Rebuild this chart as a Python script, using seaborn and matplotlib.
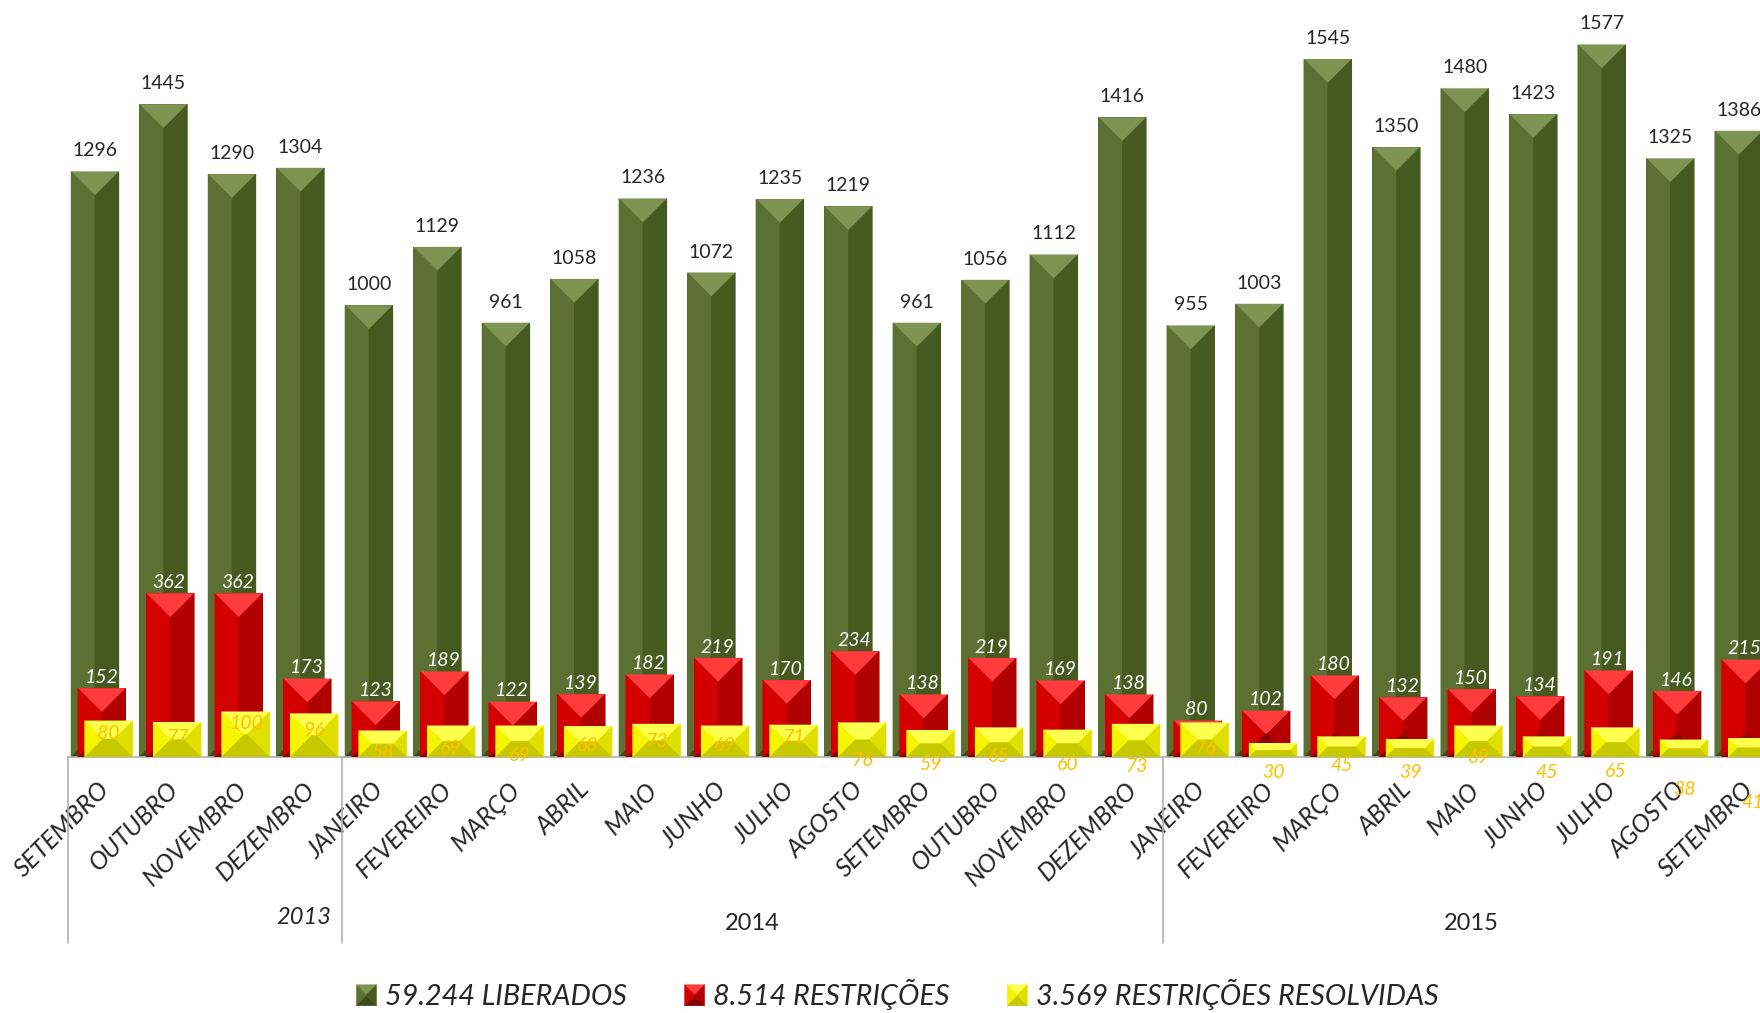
import numpy as np
import pandas as pd
import matplotlib
matplotlib.use('Agg')
import matplotlib.pyplot as plt
import seaborn as sns
from matplotlib.patches import Polygon, Patch
from matplotlib.legend_handler import HandlerBase
from matplotlib.transforms import ScaledTranslation

# Monthly data, Sep 2013 - Sep 2015
months = ['SETEMBRO', 'OUTUBRO', 'NOVEMBRO', 'DEZEMBRO',
          'JANEIRO', 'FEVEREIRO', 'MARÇO', 'ABRIL', 'MAIO', 'JUNHO', 'JULHO',
          'AGOSTO', 'SETEMBRO', 'OUTUBRO', 'NOVEMBRO', 'DEZEMBRO',
          'JANEIRO', 'FEVEREIRO', 'MARÇO', 'ABRIL', 'MAIO', 'JUNHO', 'JULHO',
          'AGOSTO', 'SETEMBRO']
years = ['2013'] * 4 + ['2014'] * 12 + ['2015'] * 9
liberados = [1296, 1445, 1290, 1304, 1000, 1129, 961, 1058, 1236, 1072, 1235, 1219,
             961, 1056, 1112, 1416, 955, 1003, 1545, 1350, 1480, 1423, 1577, 1325, 1386]
restricoes = [152, 362, 362, 173, 123, 189, 122, 139, 182, 219, 170, 234,
              138, 219, 169, 138, 80, 102, 180, 132, 150, 134, 191, 146, 215]
resolvidas = [80, 77, 100, 96, 58, 69, 69, 68, 73, 69, 71, 76,
              59, 65, 60, 73, 76, 30, 45, 39, 69, 45, 65, 38, 41]
legend_labels = ['59.244 LIBERADOS', '8.514 RESTRIÇÕES', '3.569 RESTRIÇÕES RESOLVIDAS']

# where the yellow labels sit (moved by hand in the original, data units)
resolvidas_label_y = [53, 44, 74, 58, 9, 18, 4, 26, 35, 26, 44, -7, -16, 0, -16, -21,
                      18, -35, -18, -35, -2, -35, -31, -73, -100]

# face colours: top, left, right, bottom
green_faces = ['#7D9452', '#5B7032', '#46591F', '#3A4A1B']
red_faces = ['#FF3B3B', '#D40000', '#B00000', '#8C0000']
yellow_faces = ['#FFFF4D', '#F5F500', '#E0E000', '#C8C800']

sns.set_style('white')
plt.rcParams['font.family'] = ['Lato', 'DejaVu Sans']

fig = plt.figure(figsize=(17.6, 10.13), dpi=100)
ax = fig.add_axes([0.0384, 1 - 757 / 1013, 1 - 0.0384, 757 / 1013])

pos = np.arange(len(months))
df = pd.DataFrame({'pos': pos, 'mes': months, 'ano': years,
                   'liberados': liberados, 'restricoes': restricoes,
                   'resolvidas': resolvidas})

series = [('liberados', '#4F6228', -0.1, 2, green_faces),
          ('restricoes', '#C00000', 0.0, 3, red_faces),
          ('resolvidas', '#FFFF00', 0.1, 4, yellow_faces)]

bar_sets = []
for col, base, off, z, faces in series:
    n0 = len(ax.patches)
    sns.barplot(data=df, x='pos', y=col, native_scale=True, width=0.7, color=base,
                saturation=1, errorbar=None, ax=ax)
    bars = ax.patches[n0:]
    for p in bars:
        p.set_x(p.get_x() + off)
        p.set_zorder(z)
        p.set_linewidth(0)
    bar_sets.append(bars)

ax.set_xlim(-0.5, 24.21)
ax.set_ylim(0, 1676)


def pyramid(x0, y0, w, h, dx, dy):
    x1, y1 = x0 + w, y0 + h
    top = [(x0, y1), (x1, y1), (x1 - dx, y1 - dy), (x0 + dx, y1 - dy)]
    left = [(x0, y0), (x0, y1), (x0 + dx, y1 - dy), (x0 + dx, y0 + dy)]
    right = [(x1, y0), (x1, y1), (x1 - dx, y1 - dy), (x1 - dx, y0 + dy)]
    bottom = [(x0, y0), (x1, y0), (x1 - dx, y0 + dy), (x0 + dx, y0 + dy)]
    return [top, left, right, bottom]


# pixel scale so the bevel is square on screen
o = ax.transData.transform((0, 0))
px_x = ax.transData.transform((1, 0))[0] - o[0]
px_y = ax.transData.transform((0, 1))[1] - o[1]

for (col, base, off, z, faces), bars in zip(series, bar_sets):
    for p in bars:
        x0, w, h = p.get_x(), p.get_width(), p.get_height()
        d = min(w * px_x, h * px_y) / 2
        for verts, c in zip(pyramid(x0, 0, w, h, d / px_x, d / px_y), faces):
            ax.add_patch(Polygon(verts, closed=True, facecolor=c, edgecolor=c,
                                 linewidth=0.3, zorder=z + 0.01))

# value labels
for p, v in zip(bar_sets[0], liberados):
    ax.annotate(str(v), (p.get_x() + p.get_width() / 2, p.get_height()),
                xytext=(0, 11), textcoords='offset points', ha='center',
                va='baseline', fontsize=14, color='#262626', zorder=6)
for p, v in zip(bar_sets[1], restricoes):
    ax.annotate(str(v), (p.get_x() + p.get_width() / 2, p.get_height()),
                xytext=(-1, 4), textcoords='offset points', ha='center',
                va='baseline', fontsize=14, style='italic', color='white', zorder=6)
for p, v, ly in zip(bar_sets[2], resolvidas, resolvidas_label_y):
    ax.text(p.get_x() + p.get_width() / 2, ly, str(v), ha='center', va='center',
            fontsize=14, style='italic', color='#FFC000', zorder=6, clip_on=False)

# category axis
ax.set_xticks(pos)
ax.set_xticklabels(months, rotation=45, ha='right', va='top', rotation_mode='anchor',
                   fontsize=18, style='italic', color='#262626')
ax.tick_params(axis='x', length=0, pad=15)
for lab in ax.get_xticklabels():
    lab.set_transform(lab.get_transform() + ScaledTranslation(-0.04, 0, fig.dpi_scale_trans))
ax.set_yticks([])
ax.set_xlabel('')
ax.set_ylabel('')
for s in ['top', 'left', 'right']:
    ax.spines[s].set_visible(False)
ax.spines['bottom'].set_color('#B0B0B0')
ax.spines['bottom'].set_linewidth(1.2)

# year groups
xt = ax.get_xaxis_transform()
starts = [i for i in range(len(years)) if i == 0 or years[i] != years[i - 1]]
for i in starts:
    ax.plot([i - 0.5, i - 0.5], [0, -0.2457], transform=xt, clip_on=False,
            color='#B0B0B0', linewidth=1.2)
for k, i in enumerate(starts):
    end = starts[k + 1] - 1 if k + 1 < len(starts) else len(years) - 1
    if k == 0:
        ax.text(end + 0.35, -0.212, years[i], transform=xt, ha='right', va='center',
                fontsize=17, style='italic', color='#262626')
    else:
        ax.text((i + end) / 2, -0.22, years[i], transform=xt, ha='center', va='center',
                fontsize=17, color='#262626')


class BevelHandler(HandlerBase):
    def __init__(self, faces):
        super().__init__()
        self.faces = faces

    def create_artists(self, legend, orig_handle, xdescent, ydescent, width, height,
                       fontsize, trans):
        d = min(width, height) / 2
        arts = []
        for verts, c in zip(pyramid(-xdescent, -ydescent, width, height, d, d), self.faces):
            arts.append(Polygon(verts, closed=True, facecolor=c, edgecolor=c,
                                linewidth=0.3, transform=trans))
        return arts


handles = [Patch(color=s[1]) for s in series]
fig.legend(handles, legend_labels, loc='center', bbox_to_anchor=(0.51, 0.018), ncol=3,
           frameon=False, prop={'size': 20.7, 'style': 'italic'}, labelcolor='#262626',
           handlelength=0.7, handleheight=0.75, handletextpad=0.3, columnspacing=2.0,
           handler_map={h: BevelHandler(s[4]) for h, s in zip(handles, series)})

fig.savefig('out.png', dpi=100)
